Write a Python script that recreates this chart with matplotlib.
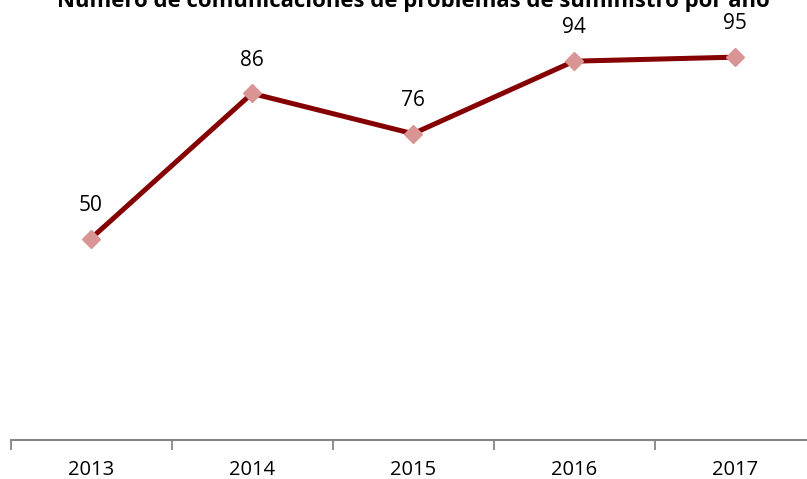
import matplotlib.pyplot as plt
import numpy as np

years = ['2013', '2014', '2015', '2016', '2017']
reports = [50, 86, 76, 94, 95]

fig = plt.figure(figsize=(8.07, 4.79), dpi=100)
# axes spans past the right edge, as the last category slot is clipped
ax = fig.add_axes([10.5 / 807, 1 - 440 / 479, 805 / 807, 403 / 479])

x = np.arange(len(years))
ax.plot(x, reports, color='#850000', linewidth=3.6, zorder=2)
ax.plot(x, reports, linestyle='none', marker='D', markersize=9.5,
        markerfacecolor='#D99594', markeredgecolor='#D99594', zorder=3)

for xi, v in zip(x, reports):
    ax.annotate(str(v), (xi, v), xytext=(0, 24), textcoords='offset points',
                ha='center', va='center', fontsize=15, family='Open Sans',
                color='#000000')

ax.set_xlim(-0.5, len(years) - 0.5)
ax.set_ylim(0, 100)

ax.set_xticks(np.arange(-0.5, len(years), 1.0))
ax.set_xticklabels([])
ax.set_xticks(x, minor=True)
ax.set_xticklabels(years, minor=True, fontsize=14.5, family='Open Sans')
ax.tick_params(axis='x', which='major', length=7, width=1.3, color='#868686',
               direction='out')
ax.tick_params(axis='x', which='minor', length=0, pad=14.5)
ax.set_yticks([])

for side in ['top', 'right', 'left']:
    ax.spines[side].set_visible(False)
ax.spines['bottom'].set_color('#868686')
ax.spines['bottom'].set_linewidth(1.5)
ax.patch.set_alpha(0)

fig.text(413 / 807, 1 - 7 / 479,
         'Número de comunicaciones de problemas de suministro por año',
         ha='center', va='baseline', fontsize=15.9, fontweight='bold',
         family='Open Sans')

fig.savefig('out.png', dpi=100)
